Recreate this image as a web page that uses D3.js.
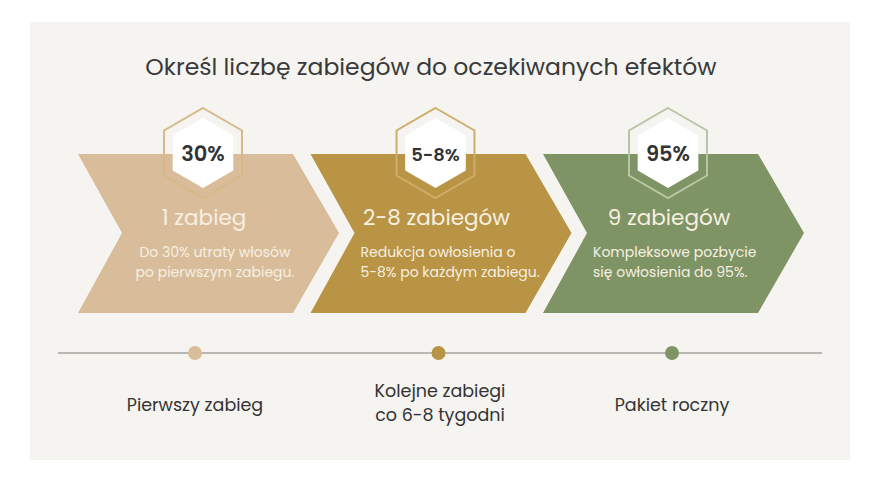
<!DOCTYPE html>
<html><head><meta charset="utf-8">
<script src="https://cdn.jsdelivr.net/npm/d3@7"></script>
<style>body{margin:0;background:#fff}svg{display:block;font-family:Poppins,"Open Sans",sans-serif}</style>
</head><body><svg id="c" width="880" height="480"></svg>
<script>
var steps = ["1 zabieg", "2-8 zabiegów", "9 zabiegów"];
var badges = ["30%", "5-8%", "95%"];
var descs = [["Do 30% utraty włosów", "po pierwszym zabiegu."],
             ["Redukcja owłosienia o", "5-8% po każdym zabiegu."],
             ["Kompleksowe pozbycie", "się owłosienia do 95%."]];
var stages = [["Pierwszy zabieg"], ["Kolejne zabiegi", "co 6-8 tygodni"], ["Pakiet roczny"]];
var fills = ["#d9bd9a", "#b99444", "#7f9464"];
var rims = ["#d8b987", "#d0ad6a", "#b9c6a4"];

var svg = d3.select("#c");
svg.append("rect").attr("x", 30).attr("y", 22).attr("width", 820).attr("height", 438).attr("fill", "#f5f4f1");
svg.append("text").attr("x", 431).attr("y", 75).attr("text-anchor", "middle")
  .attr("font-size", 23.5).attr("fill", "#3a3a3a").text("Określ liczbę zabiegów do oczekiwanych efektów");

var x = d3.scaleLinear().domain([0, 2]).range([78, 543]);
var g = svg.selectAll("g.step").data(steps).join("g").attr("transform", function (d, i) { return "translate(" + x(i) + ",0)"; });
g.append("path").attr("fill", function (d, i) { return fills[i]; })
  .attr("d", "M0,154L215,154L261,233L215,313L0,313L44,233Z");
function hex(r, cx, cy) {
  return d3.range(6).map(function (k) { var a = Math.PI / 3 * k - Math.PI / 2; return [cx + r * Math.cos(a), cy + r * Math.sin(a)]; });
}
g.append("polygon").attr("points", hex(45, 125, 153).join(" ")).attr("fill", "none")
  .attr("stroke", function (d, i) { return rims[i]; }).attr("stroke-width", 2);
g.append("polygon").attr("points", hex(35, 125, 153).join(" ")).attr("fill", "#fff");
g.append("text").attr("x", 125).attr("y", 161).attr("text-anchor", "middle")
  .attr("font-size", function (d, i) { return i === 1 ? 18 : 21; })
  .attr("font-weight", 600).attr("fill", "#333").text(function (d, i) { return badges[i]; });
g.append("text").attr("x", 126).attr("y", 225).attr("text-anchor", "middle").attr("font-size", 21.5)
  .attr("fill", "#f6efe2").text(function (d) { return d; });
g.each(function (d, i) {
  var t = d3.select(this).append("text").attr("font-size", 14).attr("fill", "#f6efe2")
    .attr("text-anchor", i === 0 ? "middle" : "start");
  descs[i].forEach(function (s, j) {
    t.append("tspan").attr("x", i === 0 ? 137 : 50).attr("y", 257 + j * 20).text(s);
  });
});

svg.append("line").attr("x1", 58).attr("x2", 822).attr("y1", 353).attr("y2", 353).attr("stroke", "#7c7c72").attr("stroke-width", 1.2);
var dx = d3.scaleLinear().domain([0, 2]).range([195, 672]);
svg.selectAll("circle.dot").data(stages).join("circle").attr("cx", function (d, i) { return dx(i) + (i === 1 ? 5 : 0); })
  .attr("cy", 353).attr("r", 7).attr("fill", function (d, i) { return fills[i]; });
svg.selectAll("text.stage").data(stages).join("text").attr("text-anchor", "middle").attr("font-size", 17.5).attr("fill", "#333")
  .each(function (d, i) {
    var t = d3.select(this), cx = [195, 440, 672][i], y0 = d.length > 1 ? 397 : 411;
    d.forEach(function (s, j) { t.append("tspan").attr("x", cx).attr("y", y0 + j * 24).text(s); });
  });
</script></body></html>
